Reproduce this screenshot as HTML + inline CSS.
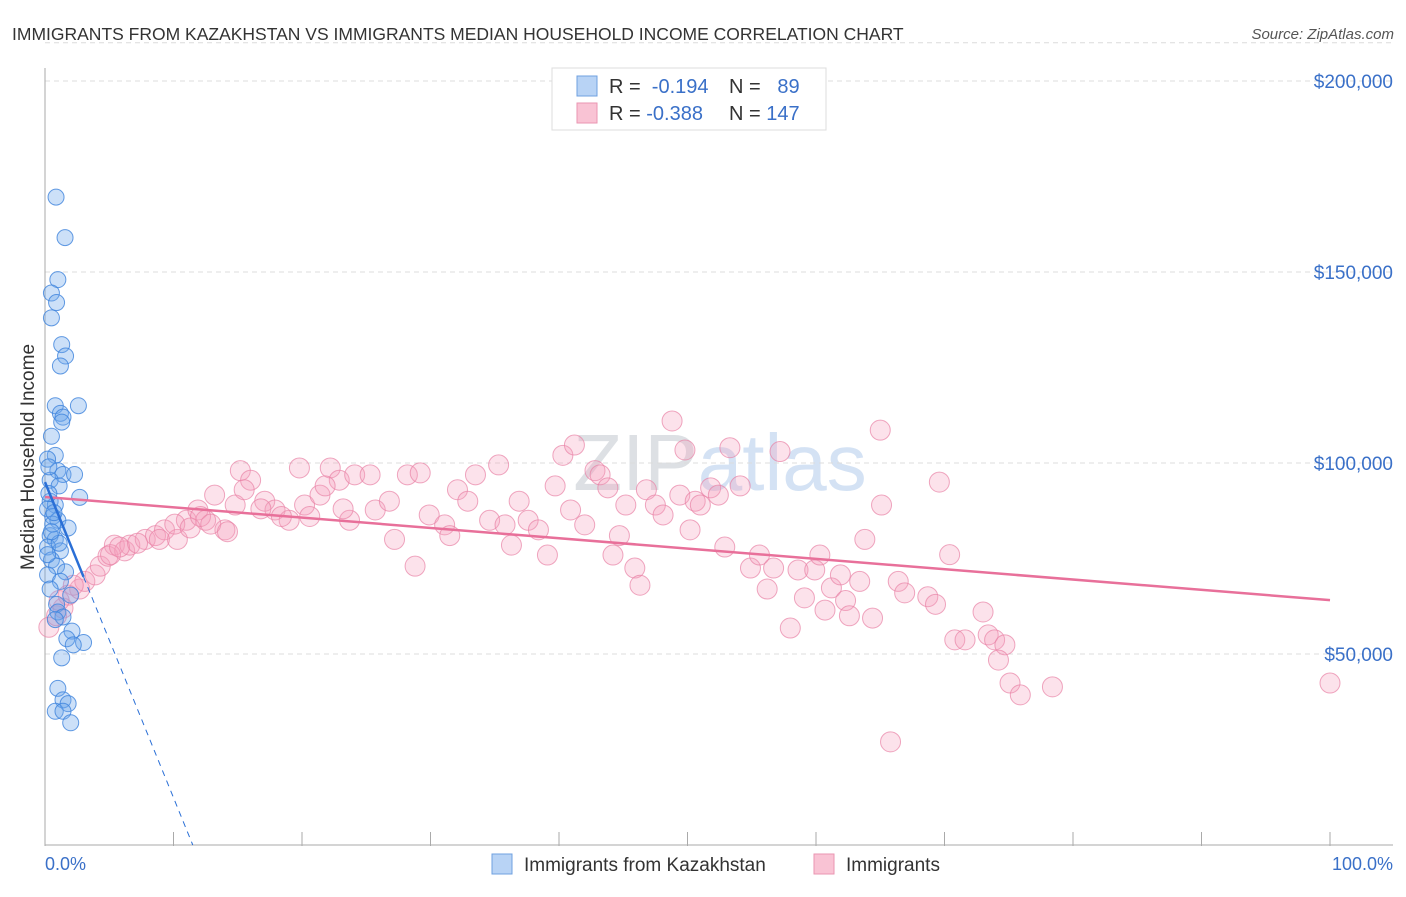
<!DOCTYPE html>
<html><head><meta charset="utf-8"><style>
body{margin:0;background:#fff;font-family:"Liberation Sans",sans-serif}
svg text{font-family:"Liberation Sans",sans-serif}
</style></head><body>
<svg id="c" width="1406" height="892" viewBox="0 0 1406 892" xmlns="http://www.w3.org/2000/svg">
<text x="12" y="40" font-size="17.5" fill="#333">IMMIGRANTS FROM KAZAKHSTAN VS IMMIGRANTS MEDIAN HOUSEHOLD INCOME CORRELATION CHART</text>
<text x="1394" y="39" font-size="15" fill="#555" text-anchor="end" font-style="italic">Source: ZipAtlas.com</text>
<text x="720" y="490" font-size="80" fill="#e4e8ef" text-anchor="middle" font-family="Liberation Serif"><tspan fill="#dde0e4">ZIP</tspan><tspan fill="#d4e2f4" font-family="Liberation Sans">atlas</tspan></text>
<g id="grid"></g>
<g id="axes"></g>
<g id="pts"></g>
<g id="lines"></g>
<text transform="translate(34,457) rotate(-90)" font-size="19" fill="#333" text-anchor="middle">Median Household Income</text>
<text x="45" y="870" font-size="18" fill="#3a70c8">0.0%</text>
<text x="1393" y="870" font-size="18" fill="#3a70c8" text-anchor="end">100.0%</text>
<g>
<rect x="552" y="68" width="274" height="62" fill="#fff" stroke="#ddd"/>
<rect x="577" y="76" width="20" height="20" fill="#b8d3f5" stroke="#6fa0e0"/>
<rect x="577" y="103" width="20" height="20" fill="#f9c3d4" stroke="#ea96b2"/>
<text x="609" y="93" font-size="20" fill="#333">R = <tspan fill="#3a70c8">&#160;-0.194</tspan></text>
<text x="729" y="93" font-size="20" fill="#333">N = <tspan fill="#3a70c8">&#160;&#160;89</tspan></text>
<text x="609" y="120" font-size="20" fill="#333">R = <tspan fill="#3a70c8">-0.388</tspan></text>
<text x="729" y="120" font-size="20" fill="#333">N = <tspan fill="#3a70c8">147</tspan></text>
</g>
<g>
<rect x="492" y="854" width="20" height="20" fill="#b8d3f5" stroke="#6fa0e0"/>
<text x="524" y="871" font-size="19" fill="#333">Immigrants from Kazakhstan</text>
<rect x="814" y="854" width="20" height="20" fill="#f9c3d4" stroke="#ea96b2"/>
<text x="846" y="871" font-size="19" fill="#333">Immigrants</text>
</g>
</svg>
<script>
const yTicks=[50,100,150,200];
const yTickLabels=["$50,000","$100,000","$150,000","$200,000"];
const xTicks=[0,10,20,30,40,50,60,70,80,90,100];
const blueX=[0.86,1.56,1.0,0.5,0.9,0.5,1.3,1.6,1.2,0.8,2.6,1.2,1.4,1.3,0.5,0.8,0.2,1.0,1.4,2.3,0.4,1.1,2.7,0.4,0.8,0.2,0.6,1.0,1.8,0.4,0.8,0.2,1.2,0.5,0.9,1.6,0.2,1.2,0.4,2.0,0.9,1.0,1.4,0.8,2.1,1.7,3.0,2.2,1.3,1.0,1.4,1.8,0.8,1.4,2.0,0.3,0.6,0.2,0.7,0.3,1.1,0.5];
const blueY=[169.6,159,148,144.5,142,138,131,128,125.4,115,115,113,112,110.7,107,102,101,98,97,97,95.5,94,91,90,89,88,86,85,83,81,80,78,77,74.6,73,71.5,70.7,69,67,65.4,63,61,59.7,59,56,54,53,52.4,49,41,38,37,35,35,32,92,84,76,87,99,79,82];
const pinkX=[0.3,0.9,1.4,1.8,2.7,3.1,3.9,4.3,4.9,5.4,6.2,6.6,7.8,8.6,9.3,10.3,11,11.9,12.5,13.2,14,14.8,15.2,16,17.1,17.9,19,19.8,20.2,21.4,22.2,22.9,23.7,24.1,25.3,25.7,26.8,27.2,28.2,28.8,29.2,29.9,31.1,31.5,32.1,32.9,33.5,34.6,35.3,35.8,36.3,36.9,37.6,38.4,39.1,39.7,40.3,40.9,41.2,42,42.8,43.2,43.8,44.2,44.7,45.2,45.9,46.3,46.8,47.5,48.1,48.8,49.4,49.8,50.2,50.6,51,51.8,52.4,52.9,53.3,54.1,54.9,55.6,56.2,56.7,57.2,58,58.6,59.1,59.9,60.3,60.7,61.2,61.9,62.3,62.6,63.4,63.8,64.4,65,65.1,65.8,66.4,66.9,68.7,69.3,69.6,70.4,70.8,71.6,73,73.4,73.9,74.7,74.2,75.1,75.9,78.4,100,5.1,5.8,7.2,8.9,10.1,11.3,12.1,12.9,14.2,15.5,16.8,18.4,20.6,21.8,23.2,1.1,2.2];
const pinkY=[57,60,62,65.4,67,69,70.7,73,75.6,78.5,77,78.5,80,81,82.5,80,85,87.7,85,91.6,82.5,89,98,95.5,90,87.7,85,98.7,89,91.6,98.7,95.5,85,96.9,96.9,87.7,90,80,96.9,73,97.4,86.4,83.8,81,93,90,96.9,85,99.5,83.8,78.5,90,85,82.5,75.9,94,102,87.7,104.7,83.8,98,96.9,93.5,75.9,81,89,72.5,68,93,89,86.4,111,91.6,103.4,82.5,90,89,93.5,91.6,78,104,94,72.5,75.9,67,72.5,103,56.8,72,64.7,72,75.9,61.5,67.3,70.7,64,60,69,80,59.4,108.6,89,27,69,66,65,63,95,76,53.7,53.7,61,55,53.7,52.4,48.4,42.4,39.3,41.4,42.4,76,78,79,80,84,83,86,84,82,93,88,86,86,94,88,64,68];
const pinkTrend=[[0,91.1],[100,64.1]];
const blueTrend=[[0,95],[3,70.2],[11.5,0]];
const NS="http://www.w3.org/2000/svg";
const X=v=>45+v*12.85, Y=v=>845-v*3.82;
function mk(t,a,p){const e=document.createElementNS(NS,t);for(const k in a)e.setAttribute(k,a[k]);p.appendChild(e);return e;}
const grid=document.getElementById('grid'),axes=document.getElementById('axes'),pts=document.getElementById('pts'),lines=document.getElementById('lines');
yTicks.forEach((v,i)=>{
 const l=mk('line',{x1:45,x2:1393,y1:Y(v),y2:Y(v),stroke:'#dcdcdc','stroke-dasharray':'5,4'},grid);
 
 
 const t=mk('text',{x:1393,y:Y(v)+7,'font-size':19,fill:'#3a70c8','text-anchor':'end'},grid);
 t.textContent=yTickLabels[i];
 
 
});
const tg=mk('line',{x1:45,x2:1393,y1:Y(210),y2:Y(210),stroke:'#dcdcdc','stroke-dasharray':'5,4'},grid);


const ya=mk('line',{x1:45,x2:45,y1:68,y2:845,stroke:'#aaa'},axes);


const xa=mk('line',{x1:45,x2:1393,y1:845,y2:845,stroke:'#aaa'},axes);


xTicks.forEach(v=>{
 const t=mk('line',{x1:X(v),x2:X(v),y1:832,y2:846,stroke:'#aaa'},axes);
 
 
});
pinkX.forEach((x,i)=>{
 const c=mk('circle',{cx:X(x),cy:Y(pinkY[i]),r:10,fill:'rgba(244,160,188,0.3)',stroke:'rgba(232,130,165,0.7)','stroke-width':1},pts);
 
 
});
blueX.forEach((x,i)=>{
 const c=mk('circle',{cx:X(x),cy:Y(blueY[i]),r:8,fill:'rgba(110,165,235,0.35)',stroke:'rgba(60,130,220,0.8)','stroke-width':1},pts);
 
 
});
const pl=mk('line',{x1:X(pinkTrend[0][0]),y1:Y(pinkTrend[0][1]),x2:X(pinkTrend[1][0]),y2:Y(pinkTrend[1][1]),stroke:'#e8709a','stroke-width':2.5},lines);


const bl=mk('line',{x1:X(blueTrend[0][0]),y1:Y(blueTrend[0][1]),x2:X(blueTrend[1][0]),y2:Y(blueTrend[1][1]),stroke:'#2a6fd6','stroke-width':2.5},lines);


const bd=mk('line',{x1:X(blueTrend[1][0]),y1:Y(blueTrend[1][1]),x2:X(blueTrend[2][0]),y2:Y(blueTrend[2][1]),stroke:'#2a6fd6','stroke-width':1,'stroke-dasharray':'6,5'},lines);


</script>
</body></html>
